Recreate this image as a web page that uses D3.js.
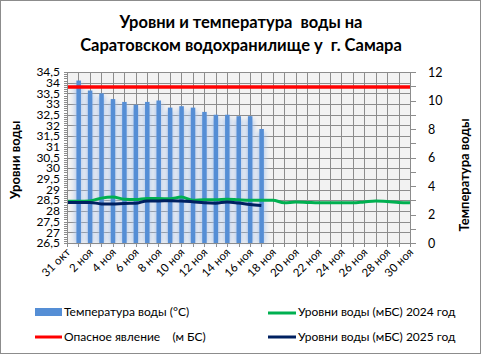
<!DOCTYPE html>
<html>
<head>
    <meta charset="utf-8">
    <title></title>
    <script src="https://d3js.org/d3.v7.min.js"></script>
    <style>
        body { margin: 0; background: #fff; }
        text { font-family: Lato, "Open Sans", sans-serif; fill: #000; }
    </style>
</head>
<body>

    <svg id="chart" width="481" height="354"></svg>

    <script>

    // dates on the category axis (one per day)
    var dates = ["31 окт", "1 ноя", "2 ноя", "3 ноя", "4 ноя", "5 ноя", "6 ноя", "7 ноя",
                 "8 ноя", "9 ноя", "10 ноя", "11 ноя", "12 ноя", "13 ноя", "14 ноя", "15 ноя",
                 "16 ноя", "17 ноя", "18 ноя", "19 ноя", "20 ноя", "21 ноя", "22 ноя", "23 ноя",
                 "24 ноя", "25 ноя", "26 ноя", "27 ноя", "28 ноя", "29 ноя", "30 ноя"];
    var dateLabels = ["31 окт", "2 ноя", "4 ноя", "6 ноя", "8 ноя", "10 ноя", "12 ноя", "14 ноя",
                      "16 ноя", "18 ноя", "20 ноя", "22 ноя", "24 ноя", "26 ноя", "28 ноя", "30 ноя"];

    // water temperature, °C (right axis)
    var temp = [null, 11.4, 10.7, 10.5, 10.1, 9.9, 9.7, 9.9, 10.0, 9.5, 9.6, 9.5, 9.2, 9.0, 9.0, 8.9, 8.9, 8.0];

    // water levels, m BS (left axis)
    var level2024 = [28.45, 28.45, 28.47, 28.6, 28.65, 28.55, 28.53, 28.58, 28.58, 28.57, 28.65,
                     28.5, 28.52, 28.52, 28.55, 28.52, 28.5, 28.5, 28.5, 28.38, 28.42, 28.4,
                     28.38, 28.38, 28.38, 28.38, 28.42, 28.46, 28.44, 28.4, 28.38];
    var level2025 = [28.4, 28.4, 28.4, 28.33, 28.32, 28.35, 28.36, 28.47, 28.47, 28.48, 28.46,
                     28.43, 28.38, 28.36, 28.42, 28.37, 28.3, 28.25];
    var danger = 33.8;

    var leftTicks = d3.range(26.5, 34.51, 0.5);
    var rightTicks = d3.range(0, 12.1, 2);

    var svg = d3.select("#chart");
    var L = 67, R = 410, T = 72, B = 243;

    var x = d3.scalePoint().domain(dates).range([L, R]);
    var yL = d3.scaleLinear().domain([26.5, 34.5]).range([B, T]);
    var yR = d3.scaleLinear().domain([0, 12]).range([B, T]);

    // border of the chart area
    svg.append("rect").attr("x", 0.5).attr("y", 0.5).attr("width", 480).attr("height", 353)
        .attr("fill", "#fff").attr("stroke", "#8c8c8c");

    // title
    var title = svg.append("text").attr("text-anchor", "middle")
        .style("font-weight", "bold").style("font-size", "16.5px").style("white-space", "pre");
    title.append("tspan").attr("x", 241).attr("y", 28).text("Уровни и температура  воды на");
    title.append("tspan").attr("x", 241).attr("y", 51).text("Саратовском водохранилище у  г. Самара");

    // plot background
    svg.append("rect").attr("x", L).attr("y", T).attr("width", R - L).attr("height", B - T)
        .attr("fill", "#f2f2f2");

    // grid
    var grid = svg.append("g").attr("stroke", "#8c8c8c").attr("stroke-width", 1)
        .attr("shape-rendering", "crispEdges");
    grid.selectAll("line.h").data(leftTicks).enter().append("line")
        .attr("x1", L).attr("x2", R).attr("y1", d => Math.round(yL(d)) + 0.5).attr("y2", d => Math.round(yL(d)) + 0.5);
    grid.selectAll("line.v").data(dates).enter().append("line")
        .attr("y1", T).attr("y2", B + 4).attr("x1", d => Math.round(x(d)) + 0.5).attr("x2", d => Math.round(x(d)) + 0.5);

    // bars with a soft glow
    var defs = svg.append("defs");
    defs.append("filter").attr("id", "soft").attr("x", "-200%").attr("width", "500%")
        .append("feGaussianBlur").attr("stdDeviation", 2.2);

    var tData = temp.map((v, i) => ({ d: dates[i], v: v })).filter(o => o.v != null);
    svg.append("g").selectAll("rect").data(tData).enter().append("rect")
        .attr("x", o => x(o.d) - 4).attr("width", 8)
        .attr("y", o => yR(o.v) + 3).attr("height", o => B - yR(o.v) - 3)
        .attr("fill", "#a9c4ec").attr("opacity", 0.75).attr("filter", "url(#soft)");
    svg.append("g").selectAll("rect").data(tData).enter().append("rect")
        .attr("x", o => x(o.d) - 2).attr("width", 4.5)
        .attr("y", o => yR(o.v)).attr("height", o => B - yR(o.v))
        .attr("fill", "#558ed5");

    // lines
    var line = d3.line().x(p => x(p[0])).y(p => yL(p[1])).curve(d3.curveMonotoneX);
    svg.append("path").attr("d", line(dates.map(d => [d, danger])))
        .attr("fill", "none").attr("stroke", "#ff0000").attr("stroke-width", 3.5);
    svg.append("path").attr("d", line(level2024.map((v, i) => [dates[i], v])))
        .attr("fill", "none").attr("stroke", "#00b050").attr("stroke-width", 3);
    svg.append("path").attr("d", line(level2025.map((v, i) => [dates[i], v])))
        .attr("fill", "none").attr("stroke", "#002060").attr("stroke-width", 3);

    // left axis
    var ax = svg.append("g").attr("shape-rendering", "crispEdges");
    ax.append("line").attr("x1", L + 0.5).attr("x2", L + 0.5).attr("y1", T).attr("y2", B)
        .attr("stroke", "#8c8c8c");
    ax.selectAll("line.mt").data(d3.range(0, 81)).enter().append("line")
        .attr("x1", L - 3).attr("x2", L)
        .attr("y1", i => Math.round(yL(26.5 + i * 0.1)) + 0.5).attr("y2", i => Math.round(yL(26.5 + i * 0.1)) + 0.5)
        .attr("stroke", "#8c8c8c");
    svg.append("g").selectAll("text").data(leftTicks).enter().append("text")
        .attr("x", 60).attr("y", d => yL(d) + 4.2).attr("text-anchor", "end")
        .style("font-size", "12px").text(d => d3.format(".1f")(d).replace(".5", ",5").replace(".0", ""));

    // right axis
    ax.append("line").attr("x1", R + 0.5).attr("x2", R + 0.5).attr("y1", T).attr("y2", B)
        .attr("stroke", "#8c8c8c");
    ax.selectAll("line.rt").data(d3.range(0, 13)).enter().append("line")
        .attr("x1", R).attr("x2", R + 6)
        .attr("y1", d => Math.round(yR(d)) + 0.5).attr("y2", d => Math.round(yR(d)) + 0.5)
        .attr("stroke", "#8c8c8c");
    svg.append("g").selectAll("text").data(rightTicks).enter().append("text")
        .attr("x", 428).attr("y", d => yR(d) + 4.5)
        .style("font-size", "12.5px").text(d => d);

    // bottom axis
    ax.append("line").attr("x1", L).attr("x2", R).attr("y1", B + 0.5).attr("y2", B + 0.5)
        .attr("stroke", "#8c8c8c");
    svg.append("g").selectAll("text").data(dateLabels).enter().append("text")
        .attr("text-anchor", "end")
        .attr("transform", d => "translate(" + (x(d) + 4) + "," + (B + 10) + ") rotate(-45)")
        .style("font-size", "11.5px").text(d => d);

    // axis titles
    svg.append("text").attr("transform", "translate(20,160) rotate(-90)")
        .attr("text-anchor", "middle").style("font-weight", "bold").style("font-size", "13px")
        .text("Уровни воды");
    svg.append("text").attr("transform", "translate(469,175) rotate(-90)")
        .attr("text-anchor", "middle").style("font-weight", "bold").style("font-size", "13px")
        .text("Температура воды");

    // legend
    var leg = svg.append("g").style("font-size", "12px");
    leg.append("rect").attr("x", 35).attr("y", 308).attr("width", 27).attr("height", 8).attr("fill", "#558ed5");
    leg.append("text").attr("x", 64).attr("y", 316).text("Температура воды (°C)");
    leg.append("line").attr("x1", 35).attr("x2", 62).attr("y1", 337).attr("y2", 337)
        .attr("stroke", "#ff0000").attr("stroke-width", 3);
    leg.append("text").attr("x", 64).attr("y", 341).style("white-space", "pre").text("Опасное явление    (м БС)");
    leg.append("line").attr("x1", 268).attr("x2", 296).attr("y1", 313).attr("y2", 313)
        .attr("stroke", "#00b050").attr("stroke-width", 3);
    leg.append("text").attr("x", 298).attr("y", 316).text("Уровни воды (мБС) 2024 год");
    leg.append("line").attr("x1", 268).attr("x2", 296).attr("y1", 337).attr("y2", 337)
        .attr("stroke", "#002060").attr("stroke-width", 3);
    leg.append("text").attr("x", 298).attr("y", 341).text("Уровни воды (мБС) 2025 год");

    </script>

</body></html>
